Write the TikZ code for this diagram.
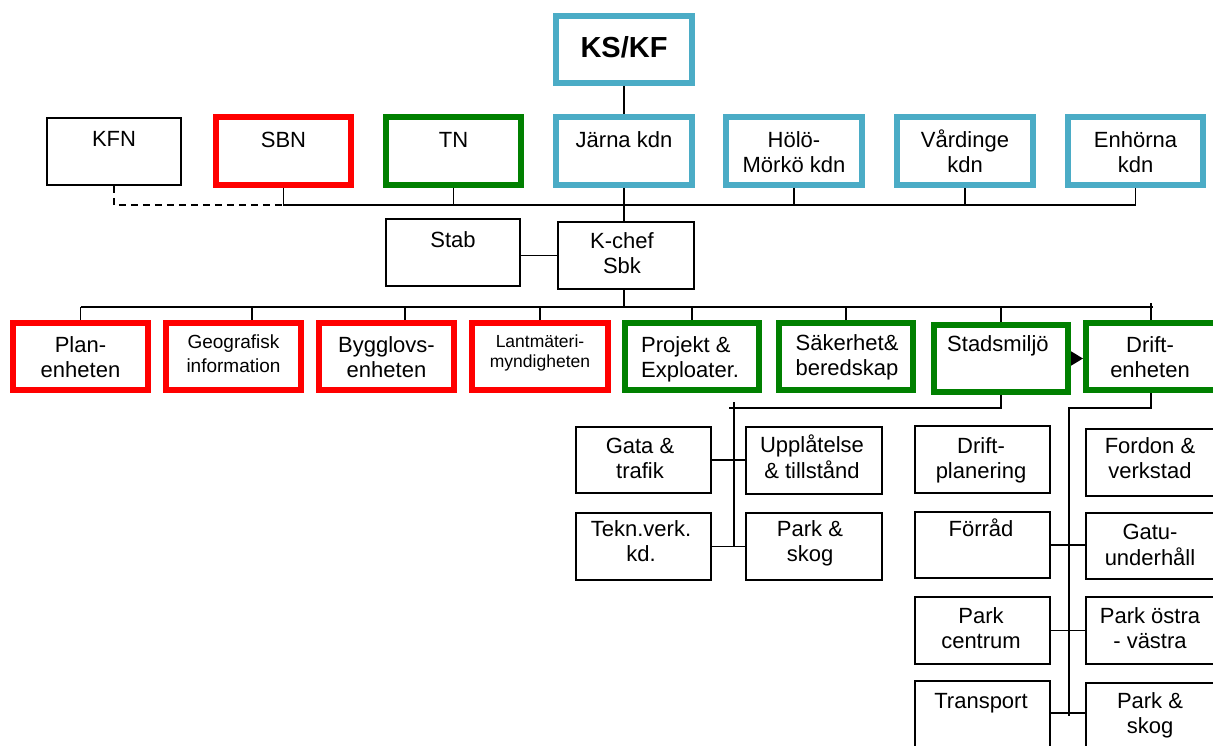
\documentclass[tikz,border=0pt]{standalone}
\usepackage{fontspec}
\setmainfont{Liberation Sans}
\usetikzlibrary{arrows.meta}
\definecolor{kteal}{RGB}{75,172,198}
\definecolor{kred}{RGB}{255,0,0}
\definecolor{kgreen}{RGB}{0,128,0}
\tikzset{
  bxbase/.style={rectangle, inner sep=0pt, fill=white},
  thinbox/.style={bxbase, draw=black, line width=1.8pt},
  tealbox/.style={bxbase, draw=kteal, line width=6pt},
  redbox/.style={bxbase, draw=kred, line width=6pt},
  greenbox/.style={bxbase, draw=kgreen, line width=6pt},
  conn/.style={line width=1.8pt, draw=black},
  tc/.style={anchor=north, inner sep=0pt, align=center, yshift=9.62pt, font=\fontsize{22}{25}\selectfont},
  tl/.style={tc, anchor=north west, align=left},
  tgeo/.style={anchor=north, inner sep=0pt, align=center, yshift=10pt, font=\fontsize{19}{24}\selectfont},
  tlant/.style={anchor=north, inner sep=0pt, align=center, yshift=7.73pt, font=\fontsize{17.5}{20}\selectfont},
  tks/.style={anchor=north, inner sep=0pt, align=center, yshift=14.1pt, font=\bfseries\fontsize{29}{35}\selectfont},
}
\newcommand\obox[6]{\node[#2, minimum width={(#5)-(#3)}, minimum height={(#6)-(#4)}] (#1) at ({((#3)+(#5))/2},{((#4)+(#6))/2}) {};}
\newcommand\tx[5]{\node[#2] (#1) at (#3,#4) {\strut #5};}
\begin{document}
\begin{tikzpicture}[x=1pt,y=-1pt]
\useasboundingbox (0,0) rectangle (1213,745);
\fill[white] (0,0) rectangle (1213,745);
\clip (0,0) rectangle (1213,745);
% top
\obox{ks}{tealbox}{556}{16}{692}{83}
% row 2
\obox{kfn}{thinbox}{47}{118}{181}{185}
\obox{sbn}{redbox}{216}{117}{351}{185}
\obox{tn}{greenbox}{386}{117}{521}{185}
\obox{jarna}{tealbox}{556}{117}{692}{185}
\obox{holo}{tealbox}{726}{117}{862}{185}
\obox{vard}{tealbox}{897}{117}{1033}{185}
\obox{enh}{tealbox}{1068}{117}{1203}{185}
% row 3
\obox{stab}{thinbox}{386}{219}{520}{286}
\obox{kchef}{thinbox}{558}{222}{694}{289}
% row 4
\obox{plan}{redbox}{13}{323}{148}{390}
\obox{geo}{redbox}{166}{323}{301}{390}
\obox{bygg}{redbox}{319}{323}{454}{390}
\obox{lant}{redbox}{472}{323}{608}{390}
\obox{proj}{greenbox}{625}{323}{759}{390}
\obox{sak}{greenbox}{779}{323}{913}{390}
\obox{stad}{greenbox}{934}{325}{1068}{392}
\obox{drift}{greenbox}{1086}{323}{1216}{390}
% lower left group
\obox{gata}{thinbox}{576}{427}{711}{493}
\obox{uppl}{thinbox}{746}{427}{882}{494}
\obox{tekn}{thinbox}{576}{513}{711}{580}
\obox{parka}{thinbox}{746}{513}{882}{580}
% lower right group
\obox{dplan}{thinbox}{915}{426}{1050}{493}
\obox{fordon}{thinbox}{1086}{429}{1216}{496}
\obox{forrad}{thinbox}{915}{512}{1050}{578}
\obox{gatu}{thinbox}{1086}{513}{1216}{579}
\obox{pcent}{thinbox}{915}{597}{1050}{664}
\obox{postra}{thinbox}{1086}{597}{1216}{664}
\obox{transp}{thinbox}{915}{681}{1050}{747}
\obox{parkb}{thinbox}{1086}{683}{1216}{747}
% texts
\tx{ks-t}{tks}{624}{47}{KS/KF}
\tx{kfn-t}{tc}{114}{138}{KFN}
\tx{sbn-t}{tc}{283.5}{139}{SBN}
\tx{tn-t}{tc}{453.5}{139}{TN}
\tx{jarna-t}{tc}{624}{139}{Järna kdn}
\tx{holo-t}{tc}{794}{139}{Hölö-\\Mörkö kdn}
\tx{vard-t}{tc}{965}{139}{Vårdinge\\kdn}
\tx{enh-t}{tc}{1135.5}{139}{Enhörna\\kdn}
\tx{stab-t}{tc}{453}{239}{Stab}
\tx{kchef-t}{tc}{622}{240}{K-chef\\Sbk}
\tx{plan-t}{tc}{80.5}{344}{Plan-\\enheten}
\tx{geo-t}{tgeo}{233.5}{341}{Geografisk\\information}
\tx{bygg-t}{tc}{386.5}{344}{Bygglovs-\\enheten}
\tx{lant-t}{tlant}{540}{341}{Lantmäteri-\\myndigheten}
\tx{proj-t}{tl}{641}{344}{Projekt \&\\Exploater.}
\tx{sak-t}{tl}{795.5}{342}{Säkerhet\&\\beredskap}
\tx{stad-t}{tl}{947}{343}{Stadsmiljö}
\tx{drift-t}{tc}{1150}{344}{Drift-\\enheten}
\tx{gata-t}{tc}{640}{445}{Gata \&\\trafik}
\tx{uppl-t}{tc}{812}{444}{Upplåtelse\\\& tillstånd}
\tx{tekn-t}{tc}{641}{528}{Tekn.verk.\\kd.}
\tx{parka-t}{tc}{810}{528}{Park \&\\skog}
\tx{dplan-t}{tc}{981}{445}{Drift-\\planering}
\tx{fordon-t}{tc}{1150}{445}{Fordon \&\\verkstad}
\tx{forrad-t}{tc}{981}{528}{Förråd}
\tx{gatu-t}{tc}{1150}{531}{Gatu-\\underhåll}
\tx{pcent-t}{tc}{981}{615}{Park\\centrum}
\tx{postra-t}{tc}{1150}{615}{Park östra\\- västra}
\tx{transp-t}{tc}{981}{700}{Transport}
\tx{parkb-t}{tc}{1150}{700}{Park \&\\skog}
% coordinates
\coordinate (b1) at (0,205);
\coordinate (b2) at (0,307);
\coordinate (b2r) at (1153,307);
\coordinate (sgeo) at (252,307);
\coordinate (sbygg) at (405,307);
\coordinate (sdrift) at (1151,303);
\coordinate (sl) at (729,408);
\coordinate (v1t) at (734,402);
\coordinate (v1b) at (734,547);
\coordinate (dd) at (1151,0);
\coordinate (v2t) at (1069,408);
\coordinate (v2b) at (1069,716);
\coordinate (ytr) at (0,713);
% connectors top
\draw[conn] (ks.south) -- (jarna.north);
\draw[conn] (sbn.south) -- (sbn.south |- b1) -- (enh.south |- b1) -- (enh.south);
\foreach \n in {tn,jarna,holo,vard} \draw[conn] (\n.south) -- (\n.south |- b1);
\draw[conn, dash pattern=on 7pt off 5pt] (kfn.south) -- (kfn.south |- b1) -- (sbn.south |- b1);
\draw[conn] (jarna.south) -- (jarna.south |- kchef.north);
\draw[conn] (stab.east |- kchef.west) -- (kchef.west);
\draw[conn] (jarna.south |- kchef.south) -- (jarna.south |- b2);
% bus 2
\draw[conn] (plan.north |- b2) -- (b2r);
\draw[conn] (plan.north) -- (plan.north |- b2);
\draw[conn] (sgeo) -- (sgeo |- geo.north);
\draw[conn] (sbygg) -- (sbygg |- bygg.north);
\foreach \n in {lant,proj,sak,stad} \draw[conn] (\n.north) -- (\n.north |- b2);
\draw[conn] (sdrift) -- (sdrift |- drift.north);
\draw[conn, -{Triangle[length=12pt,width=14pt]}] (stad.east) -- (drift.west |- stad.east);
% lower left
\draw[conn] (stad.south) |- (sl);
\draw[conn] (v1t) -- (v1b);
\draw[conn] (gata.east) -- (uppl.west |- gata.east);
\draw[conn] (tekn.east) -- (parka.west |- tekn.east);
% lower right
\draw[conn] (drift.south -| dd) |- (v2t) -- (v2b);
\draw[conn] (forrad.east) -- (gatu.west |- forrad.east);
\draw[conn] (pcent.east) -- (postra.west |- pcent.east);
\draw[conn] (transp.east |- ytr) -- (parkb.west |- ytr);
\end{tikzpicture}
\end{document}
